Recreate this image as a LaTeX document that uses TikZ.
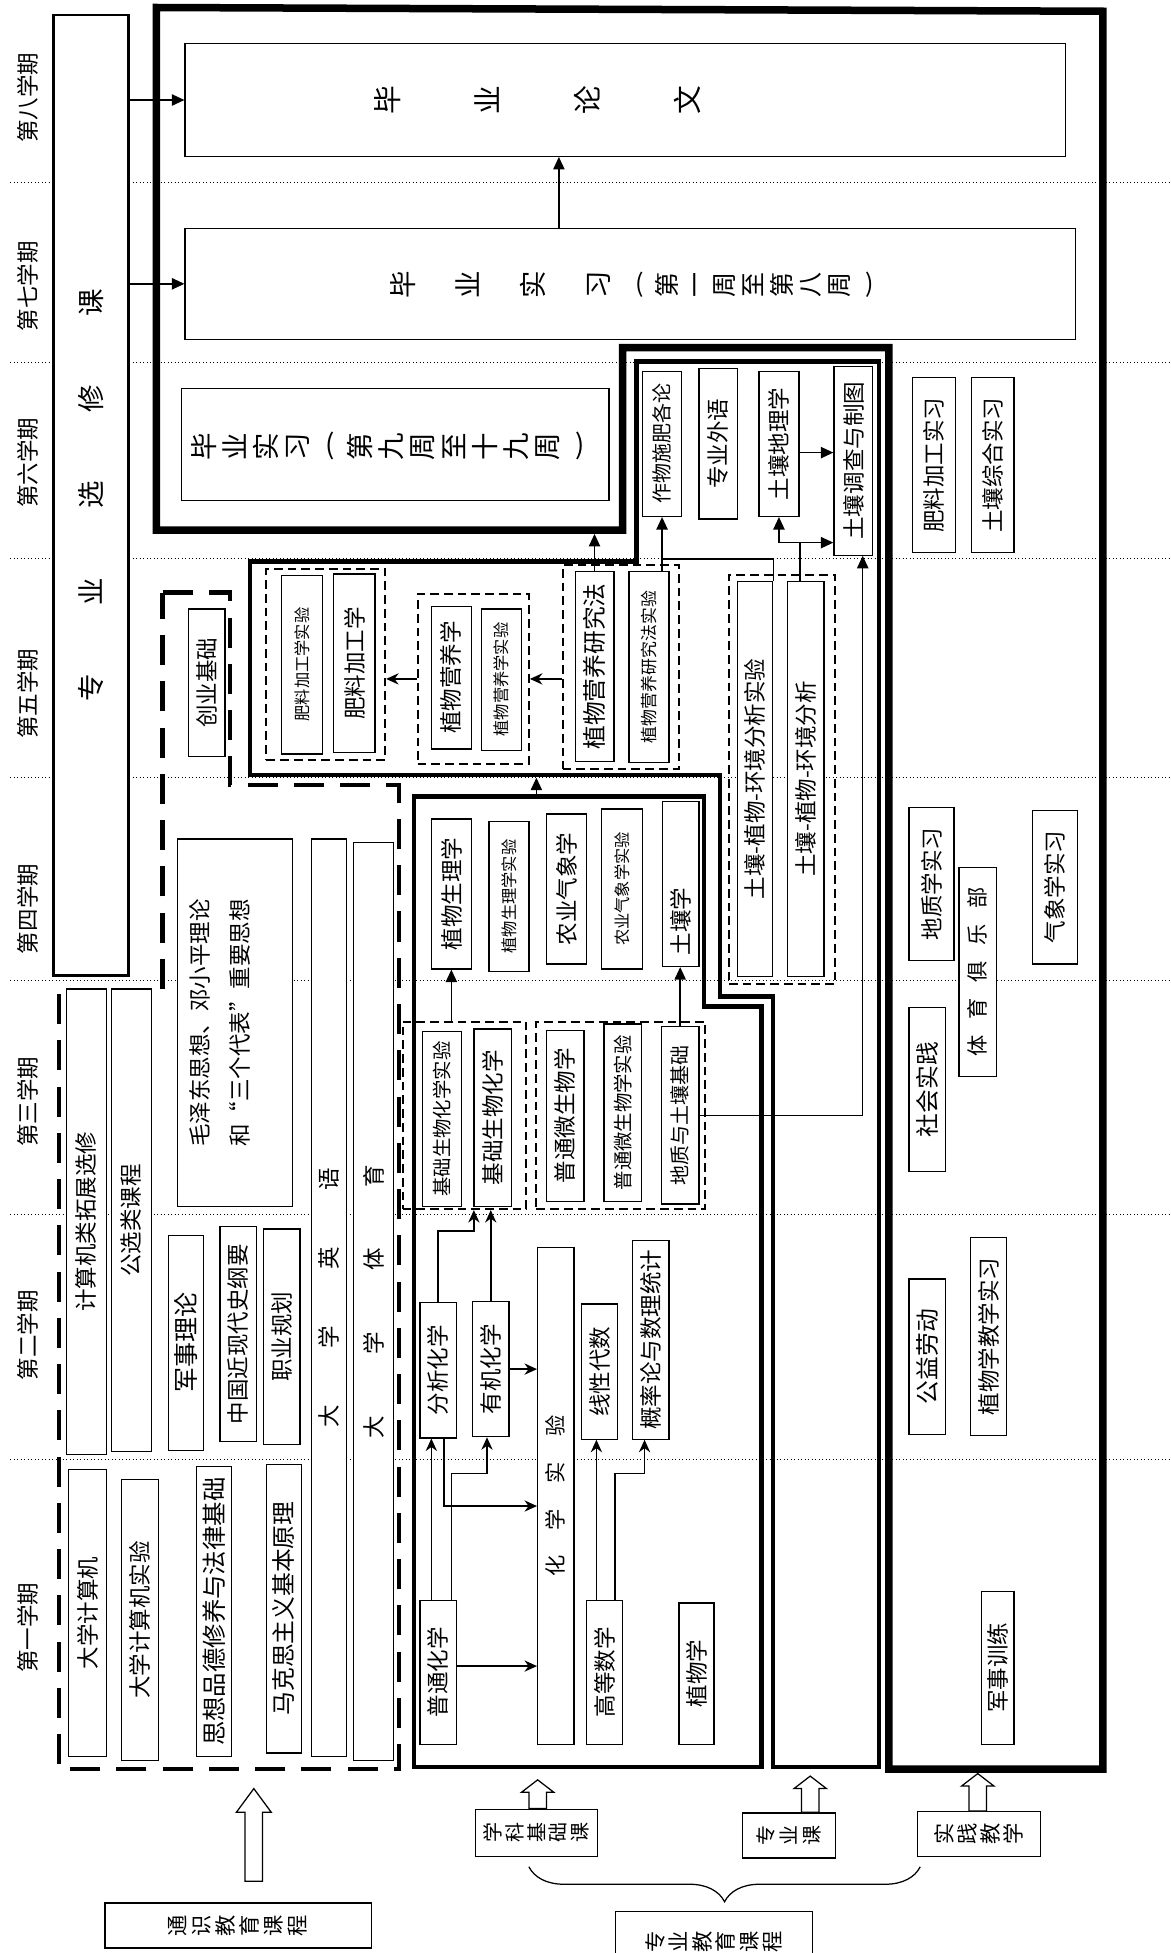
\documentclass[tikz,border=0pt]{standalone}
\usepackage{fontspec}
\setmainfont{Noto Sans CJK SC}
\usepackage{graphicx}
\usetikzlibrary{arrows.meta,decorations.pathreplacing}

\tikzset{
	course/.style={draw, line width=1pt, fill=white, inner sep=0pt, font=\fontsize{18}{18}\selectfont},
	labfont/.style={font=\fontsize{13}{13}\selectfont},
	midfont/.style={font=\fontsize{15.5}{15.5}\selectfont},
	grp/.style={draw, line width=1.6pt, dash pattern=on 7pt off 4pt, inner sep=0pt},
	zone/.style={line width=3.5pt, line join=miter},
	tongshi/.style={line width=3.5pt, dash pattern=on 24pt off 13pt},
	arr/.style={-{Triangle[length=10pt,width=9pt]}, line width=1.2pt},
	barb/.style={-{Stealth[length=10pt,width=9pt]}, line width=1.2pt},
	link/.style={line width=1.2pt},
	sem/.style={rotate=90, font=\fontsize{18}{18}\selectfont},
	vstk/.style={rotate=90, align=center, inner sep=0pt},
	hollow/.style={draw, line width=1pt, fill=white, line join=miter},
	termline/.style={dotted, line width=.8pt},
}

\begin{document}
\begin{tikzpicture}[x=1pt, y=-1pt]
	\useasboundingbox (0,0) rectangle (936,1562);

	\draw[termline] (8,146) -- (936,146);
	\draw[termline] (8,290) -- (936,290);
	\draw[termline] (8,447) -- (936,447);
	\draw[termline] (8,622) -- (936,622);
	\draw[termline] (8,784) -- (936,784);
	\draw[termline] (8,971) -- (936,971);
	\draw[termline] (8,1167) -- (936,1167);

	\node[sem] (t8) at (22,78) {第八学期};
	\node[sem] (t7) at (22,229) {第七学期};
	\node[sem] (t6) at (22,370) {第六学期};
	\node[sem] (t5) at (22,555) {第五学期};
	\node[sem] (t4) at (22,727) {第四学期};
	\node[sem] (t3) at (22,881) {第三学期};
	\node[sem] (t2) at (22,1068) {第二学期};
	\node[sem] (t1) at (22,1302) {第一学期};

	\draw[line width=6pt, line join=miter] (125,6) -- (882,9) -- (882,1415) -- (711,1415) -- (711,278) -- (498,278) -- (498,424) -- (125,424) -- cycle;
	\draw[zone] (509,289) -- (703,289) -- (703,1413) -- (618,1413) -- (618,797) -- (576,797) -- (576,620) -- (200,620) -- (200,449) -- (509,449) -- cycle;
	\draw[zone] (331,637) -- (563,637) -- (563,805) -- (609,805) -- (609,1413) -- (331,1413) -- cycle;
	\draw[tongshi] (130,474) -- (184,474) -- (184,628) -- (319,628) -- (319,1415) -- (47,1415) -- (47,792) -- (130,792) -- cycle;

	\coordinate (sjb) at (472,427);
	\coordinate (zkbot) at (429,622);
	\coordinate (jctop) at (429,637);
	\coordinate (j1) at (529.5,447);
	\coordinate (j2) at (640,434);

	\node[course, line width=2.2pt, minimum width=60pt, minimum height=768pt, font=\fontsize{22}{22}\selectfont] (zyxx) at (73,396) {\rotatebox{90}{专\hspace{55pt}业\hspace{55pt}选\hspace{55pt}修\hspace{55pt}课}};

	\node[course, minimum width=704pt, minimum height=90pt] (lw) at (500,80) {};
	\node[vstk, font=\fontsize{23}{80}\selectfont] (lwt) at (430,80) {毕\\业\\论\\文};
	\node[course, minimum width=712pt, minimum height=89pt] (sx1) at (504,227) {};
	\node[vstk, font=\fontsize{22}{52}\selectfont] (sx1a) at (400,228) {毕\\业\\实\\习};
	\node[vstk, font=\fontsize{20}{23}\selectfont] (sx1b) at (605,228) {\rotatebox[origin=c]{-90}{(}\\第\\一\\周\\至\\第\\八\\周\\\rotatebox[origin=c]{-90}{)}};
	\node[course, minimum width=342pt, minimum height=89pt] (sx2) at (316,355.5) {};
	\node[vstk, font=\fontsize{22}{25}\selectfont] (sx2t) at (312,357) {毕\\业\\实\\习\\\rotatebox[origin=c]{-90}{(}\\第\\九\\周\\至\\十\\九\\周\\\rotatebox[origin=c]{-90}{)}};

	\node[course, minimum width=32pt, minimum height=372pt] (jsjtz) at (69,977) {\rotatebox{90}{计算机类拓展选修}};
	\node[course, minimum width=32pt, minimum height=370pt] (gxkc) at (105,976) {\rotatebox{90}{公选类课程}};
	\node[course, minimum width=29pt, minimum height=118pt] (cyjc) at (165.5,546) {\rotatebox{90}{创业基础}};
	\node[course, minimum width=92pt, minimum height=294pt] (mzd) at (188,818) {};
	\node[rotate=90, align=left, inner sep=0pt, font=\fontsize{18}{32}\selectfont] (mzdt) at (176,818) {毛泽东思想、邓小平理论\\和“三个代表”重要思想};
	\node[course, minimum width=28pt, minimum height=734pt] (dxyy) at (263,1038) {\rotatebox{90}{大\hspace{45pt}学\hspace{45pt}英\hspace{45pt}语}};
	\node[course, minimum width=32pt, minimum height=734pt] (dxty) at (299,1041) {\rotatebox{90}{大\hspace{49pt}学\hspace{49pt}体\hspace{49pt}育}};
	\node[course, minimum width=28pt, minimum height=172pt, font=\fontsize{20}{20}\selectfont] (jsll) at (149,1074) {\rotatebox{90}{军事理论}};
	\node[course, minimum width=29pt, minimum height=172pt] (zgjx) at (190.5,1067) {\rotatebox{90}{中国近现代史纲要}};
	\node[course, minimum width=29pt, minimum height=172pt] (zygh) at (225.5,1069) {\rotatebox{90}{职业规划}};
	\node[course, minimum width=30pt, minimum height=230pt] (dxjsj) at (70,1290) {\rotatebox{90}{大学计算机}};
	\node[course, minimum width=30pt, minimum height=225pt] (dxjsy) at (112,1295.5) {\rotatebox{90}{大学计算机实验}};
	\node[course, minimum width=28pt, minimum height=232pt, font=\fontsize{19.5}{19.5}\selectfont] (sxpd) at (171,1289) {\rotatebox{90}{思想品德修养与法律基础}};
	\node[course, minimum width=28pt, minimum height=231pt, font=\fontsize{19}{19}\selectfont] (mksz) at (227,1286.5) {\rotatebox{90}{马克思主义基本原理}};

	\node[grp, minimum width=99pt, minimum height=150pt] (g1) at (371.5,892) {};
	\node[grp, minimum width=135pt, minimum height=150pt] (g2) at (496.5,892) {};
	\node[course, minimum width=29pt, minimum height=115pt] (pthx) at (350.5,1337.5) {\rotatebox{90}{普通化学}};
	\node[course, minimum width=29pt, minimum height=108pt] (fxhx) at (350.5,1096) {\rotatebox{90}{分析化学}};
	\node[course, minimum width=29pt, minimum height=108pt] (yjhx) at (392.5,1095) {\rotatebox{90}{有机化学}};
	\node[course, minimum width=29pt, minimum height=397pt, font=\fontsize{17}{17}\selectfont] (hxsy) at (444.5,1196.5) {\rotatebox{90}{化\hspace{20.5pt}学\hspace{20.5pt}实\hspace{20.5pt}验}};
	\node[course, minimum width=29pt, minimum height=108pt] (xxds) at (479.5,1097) {\rotatebox{90}{线性代数}};
	\node[course, minimum width=29pt, minimum height=159pt] (gll) at (520.5,1071.5) {\rotatebox{90}{概率论与数理统计}};
	\node[course, minimum width=29pt, minimum height=115pt] (gdsx) at (483.5,1337.5) {\rotatebox{90}{高等数学}};
	\node[course, minimum width=28pt, minimum height=113pt] (zwx) at (557,1338.5) {\rotatebox{90}{植物学}};
	\node[course, midfont, minimum width=31pt, minimum height=140pt] (jcsy) at (353.5,895) {\rotatebox{90}{基础生物化学实验}};
	\node[course, minimum width=30pt, minimum height=142pt] (jcsh) at (394,894) {\rotatebox{90}{基础生物化学}};
	\node[course, minimum width=30pt, minimum height=137pt] (ptws) at (452,892.5) {\rotatebox{90}{普通微生物学}};
	\node[course, midfont, minimum width=30pt, minimum height=142pt] (ptwsy) at (498,890) {\rotatebox{90}{普通微生物学实验}};
	\node[course, font=\fontsize{16}{16}\selectfont, minimum width=30pt, minimum height=142pt] (dztr) at (544,892) {\rotatebox{90}{地质与土壤基础}};
	\node[course, minimum width=32pt, minimum height=120pt] (zwsl) at (361,715) {\rotatebox{90}{植物生理学}};
	\node[course, labfont, minimum width=32pt, minimum height=120pt] (zwslsy) at (407,717) {\rotatebox{90}{植物生理学实验}};
	\node[course, minimum width=32pt, minimum height=120pt] (nyqx) at (453,711) {\rotatebox{90}{农业气象学}};
	\node[course, labfont, minimum width=33pt, minimum height=128pt] (nyqxsy) at (497.5,711) {\rotatebox{90}{农业气象学实验}};
	\node[course, minimum width=29pt, minimum height=132pt] (trx) at (544.5,707) {\rotatebox{90}{土壤学\hspace{60pt}}};

	\node[grp, minimum width=95pt, minimum height=153pt] (ga) at (260.5,531.5) {};
	\node[grp, minimum width=89pt, minimum height=136pt] (gb) at (378.5,543) {};
	\node[grp, minimum width=93pt, minimum height=163pt] (gc) at (496.5,533.5) {};
	\node[grp, minimum width=85pt, minimum height=327pt] (gd) at (625.5,623.5) {};
	\node[course, labfont, minimum width=33pt, minimum height=143pt] (flsy) at (241.5,531.5) {\rotatebox{90}{肥料加工学实验}};
	\node[course, minimum width=33pt, minimum height=143pt] (fljg) at (283.5,530.5) {\rotatebox{90}{肥料加工学}};
	\node[course, minimum width=32pt, minimum height=114pt] (zwyy) at (361,542) {\rotatebox{90}{植物营养学}};
	\node[course, labfont, minimum width=32pt, minimum height=113pt] (zwyysy) at (401,543.5) {\rotatebox{90}{植物营养学实验}};
	\node[course, font=\fontsize{19}{19}\selectfont, minimum width=31pt, minimum height=152pt] (yjf) at (475.5,533) {\rotatebox{90}{植物营养研究法}};
	\node[course, font=\fontsize{13.5}{13.5}\selectfont, minimum width=32pt, minimum height=153pt] (yjfsy) at (519,533.5) {\rotatebox{90}{植物营养研究法实验}};
	\node[course, font=\fontsize{16}{16}\selectfont, minimum width=31pt, minimum height=116pt] (zwsf) at (529.5,355) {\rotatebox{90}{作物施肥各论}};
	\node[course, minimum width=31pt, minimum height=120pt] (zywy) at (574.5,355) {\rotatebox{90}{专业外语}};
	\node[course, minimum width=32pt, minimum height=116pt] (trdl) at (623,355) {\rotatebox{90}{土壤地理学}};
	\node[course, minimum width=31pt, minimum height=151pt] (trdc) at (682.5,368.5) {\rotatebox{90}{土壤调查与制图}};
	\node[course, minimum width=28pt, minimum height=316pt] (tzsy) at (604,623) {\rotatebox{90}{土壤-植物-环境分析实验}};
	\node[course, minimum width=29pt, minimum height=316pt] (tzfx) at (644.5,623) {\rotatebox{90}{土壤-植物-环境分析}};

	\node[course, minimum width=34pt, minimum height=140pt] (fljsx) at (747,372) {\rotatebox{90}{肥料加工实习}};
	\node[course, minimum width=34pt, minimum height=140pt] (trzh) at (794,372) {\rotatebox{90}{土壤综合实习}};
	\node[course, minimum width=36pt, minimum height=122pt] (dzsx) at (745,707) {\rotatebox{90}{地质学实习}};
	\node[course, font=\fontsize{17}{17}\selectfont, minimum width=30pt, minimum height=167pt] (tyjl) at (782,777.5) {\rotatebox{90}{体\hspace{12.5pt}育\hspace{12.5pt}俱\hspace{12.5pt}乐\hspace{12.5pt}部}};
	\node[course, minimum width=36pt, minimum height=123pt] (qxsx) at (844,709.5) {\rotatebox{90}{气象学实习}};
	\node[course, font=\fontsize{19}{19}\selectfont, minimum width=29pt, minimum height=131pt] (shsj) at (741.5,871.5) {\rotatebox{90}{社会实践}};
	\node[course, font=\fontsize{19}{19}\selectfont, minimum width=29pt, minimum height=124pt] (gyld) at (741.5,1085) {\rotatebox{90}{公益劳动}};
	\node[course, minimum width=29pt, minimum height=158pt] (zwjx) at (790.5,1069) {\rotatebox{90}{植物学教学实习}};
	\node[course, minimum width=26pt, minimum height=122pt] (jsxl) at (798,1334) {\rotatebox{90}{军事训练}};

	\node[course, rotate=90, align=center, minimum width=38pt, minimum height=98pt, font=\fontsize{16}{17.5}\selectfont] (xkjc) at (429,1466) {学\\科\\基\\础\\课};
	\node[course, rotate=90, align=center, minimum width=36pt, minimum height=74pt, font=\fontsize{16}{18.5}\selectfont] (zyk) at (631,1468) {专\\业\\课};
	\node[course, rotate=90, align=center, minimum width=36pt, minimum height=98pt, font=\fontsize{17}{18.5}\selectfont] (sjjx) at (783,1467) {实\\践\\教\\学};
	\node[course, rotate=90, align=center, minimum width=36pt, minimum height=213pt, font=\fontsize{17}{19.2}\selectfont] (tsjy) at (190.5,1540) {通\\识\\教\\育\\课\\程};
	\node[course, rotate=90, align=center, minimum width=48pt, minimum height=158pt, font=\fontsize{17}{18.7}\selectfont] (zyjy) at (571,1553) {专\\业\\教\\育\\课\\程};

	\draw[arr] (zyxx.east |- lw.west) -- (lw.west);
	\draw[arr] (zyxx.east |- sx1.west) -- (sx1.west);
	\draw[arr] ([xshift=-57pt]sx1.north) -- ([xshift=-53pt]lw.south);

	\draw[arr] (yjf.north) -- (yjf.north |- sjb);
	\draw[arr] (zwsf.south |- yjfsy.north) -- (zwsf.south);
	\draw[link] (tzsy.north east) |- (j1);
	\draw[link] ([xshift=-4.5pt]tzfx.north) -- (j2);
	\draw[arr] (j2) -| (trdl.south);
	\draw[arr] (j2) -- (j2 -| trdc.west);
	\draw[arr] ([yshift=-7pt]trdl.east) -- ([yshift=-7pt]trdl.east -| trdc.west);
	\draw[arr] (dztr.east) -| ([xshift=7.5pt]trdc.south);
	\draw[barb] (gc.west |- gb.east) -- (gb.east);
	\draw[barb] (gb.west) -- (gb.west -| ga.east);
	\draw[arr] (jctop) -- (zkbot);

	\draw[arr] (zwsl.south |- g1.north) -- (zwsl.south);
	\draw[arr] (dztr.north) -- (dztr.north |- trx.south);
	\draw[barb] (fxhx.north) -- ++(0,-57) -| ([xshift=7.5pt]g1.south);
	\draw[barb] (yjhx.north) -- (yjhx.north |- g1.south);
	\draw[barb] ([xshift=-5.5pt]pthx.north) -- ([xshift=-5.5pt]fxhx.south);
	\draw[barb] ([xshift=10.5pt]pthx.north) -- ++(0,-101) -| ([xshift=-3pt]yjhx.south);
	\draw[barb] ([xshift=4.5pt]fxhx.south) |- ([yshift=-8pt]hxsy.west);
	\draw[barb] (yjhx.east) -- (yjhx.east -| hxsy.west);
	\draw[barb] ([yshift=5pt]pthx.east) -- ([yshift=5pt]pthx.east -| hxsy.west);
	\draw[barb] ([xshift=-6.5pt]gdsx.north) -- ([xshift=-6.5pt]gdsx.north |- xxds.south);
	\draw[barb] ([xshift=8.5pt]gdsx.north) -- ++(0,-101) -| ([xshift=-5pt]gll.south);

	\draw[hollow] ([xshift=5.5pt,yshift=17pt]tsjy.east) -- ++(0,-55) -- ++(-7,0) -- ++(14,-19) -- ++(14,19) -- ++(-7,0) -- ++(0,55) -- cycle;
	\draw[hollow] ([xshift=-6pt]xkjc.east) -- ++(0,-13) -- ++(-6,0) -- ++(13,-10) -- ++(13,10) -- ++(-6,0) -- ++(0,13) -- cycle;
	\draw[hollow] ([xshift=10pt]zyk.east) -- ++(0,-19) -- ++(-6,0) -- ++(13,-10) -- ++(13,10) -- ++(-6,0) -- ++(0,19) -- cycle;
	\draw[hollow] ([xshift=-8pt]sjjx.east) -- ++(0,-20) -- ++(-6,0) -- ++(13,-10) -- ++(13,10) -- ++(-6,0) -- ++(0,20) -- cycle;

	\coordinate (bl) at (423,1493);
	\coordinate (br) at (736,1493);
	\draw[decorate, decoration={brace, amplitude=28pt, mirror}, line width=1pt] (bl) -- (br);

\end{tikzpicture}
\end{document}
